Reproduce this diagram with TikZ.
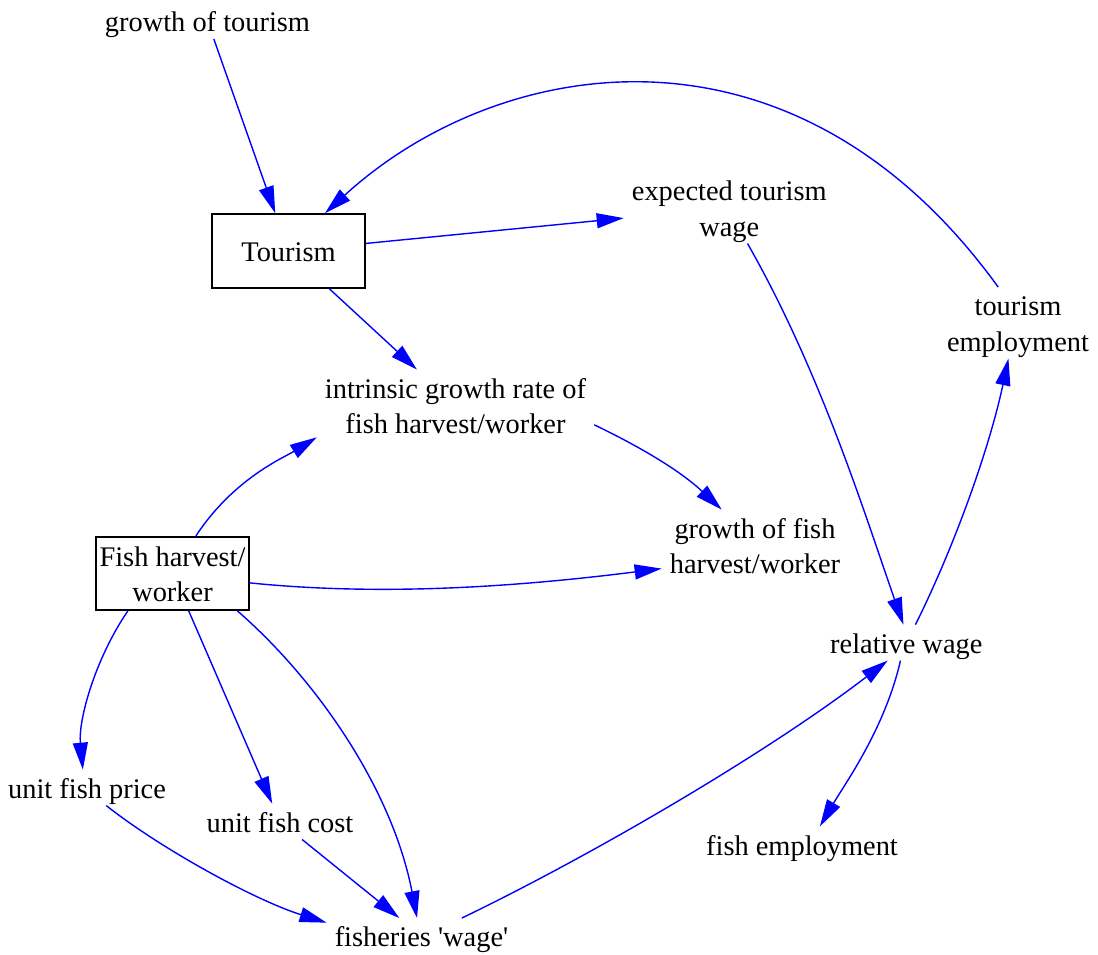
\documentclass[tikz,border=0pt]{standalone}
\usepackage{fontspec}
\setmainfont{Liberation Serif}
\usetikzlibrary{arrows.meta}
\newcommand{\gs}{\rule[-7.05pt]{0pt}{35.5pt}}
\newcommand{\fsz}{\fontsize{28.4pt}{35.5pt}\selectfont}
\tikzset{
  lbl/.style={inner xsep=8pt, inner ysep=0pt, align=center, font=\fsz},
  stock/.style={draw, line width=1.6pt, inner sep=0pt, minimum width=153pt, minimum height=74pt, align=center, font=\fsz},
  arr/.style={draw=blue, line width=1.4pt, -{Triangle[length=27pt,width=15pt]}, fill=none}
}
\begin{document}
\begin{tikzpicture}[x=1pt, y=-1pt]
\useasboundingbox (0,0) rectangle (1098,954);
% nodes
\node[lbl] (gt)  at (207.5,21)   {\gs growth of tourism};
\node[stock] (tour) at (288.5,251) {\gs Tourism};
\node[lbl] (etw) at (729.3,207.8) {\gs expected tourism\\\gs wage};
\node[lbl] (te)  at (1018,322.8)  {\gs tourism\\\gs employment};
\node[lbl] (igr) at (455.5,405.3) {\gs intrinsic growth rate of\\\gs fish harvest/worker};
\node[lbl] (gf)  at (755,545.3)   {\gs growth of fish\\\gs harvest/worker};
\node[stock, minimum height=73.3pt] (fhw) at (172.5,573.4) {\gs Fish harvest/\\\gs worker};
\node[lbl] (rw)  at (906.3,642.6) {\gs relative wage};
\node[lbl] (ufp) at (87,787.6)    {\gs unit fish price};
\node[lbl] (ufc) at (280,821.6)   {\gs unit fish cost};
\node[lbl] (fw)  at (421.5,936)   {\gs fisheries \textquotesingle wage\textquotesingle};
\node[lbl] (fe)  at (802,844.3)   {\gs fish employment};
% connectors
\draw[arr] (gt) -- (tour);
\draw[arr] (te.119.4) .. controls (792,2) and (497,56) .. (tour.46.2);
\draw[arr] (tour) -- (etw);
\draw[arr] (tour) -- (igr);
\draw[arr] (fhw.58.5) .. controls (233.5,478.6) and (283.8,457.6) .. (igr.193.1);
\draw[arr] (igr.-8.8) .. controls (644,448.7) and (681.5,472) .. (gf.133.3);
\draw[arr] (fhw.-7.1) .. controls (379,596) and (512,587.4) .. (gf.194.1);
\draw[arr] (etw.-63.97) .. controls (821.6,373.2) and (867,521) .. (rw.99.7);
\draw[arr] (rw.63.5) .. controls (955.4,544.4) and (989.9,446.3) .. (te.255.4);
\draw[arr] (rw.-108.8) .. controls (884.9,728.6) and (845,783.7) .. (fe.45.5);
\draw[arr] (fhw.220.5) .. controls (95,659) and (78.2,720) .. (ufp.103.7);
\draw[arr] (fhw) -- (ufc);
\draw[arr] (fhw.-30.7) .. controls (318,681) and (392.6,790.5) .. (fw.104.7);
\draw[arr] (ufp.-43.2) .. controls (160.9,848.8) and (255.6,900.5) .. (fw.172.9);
\draw[arr] (ufc) -- (fw);
\draw[arr] (fw.24.2) .. controls (596,853.3) and (769.1,751.4) .. (rw.224.4);
\end{tikzpicture}
\end{document}
